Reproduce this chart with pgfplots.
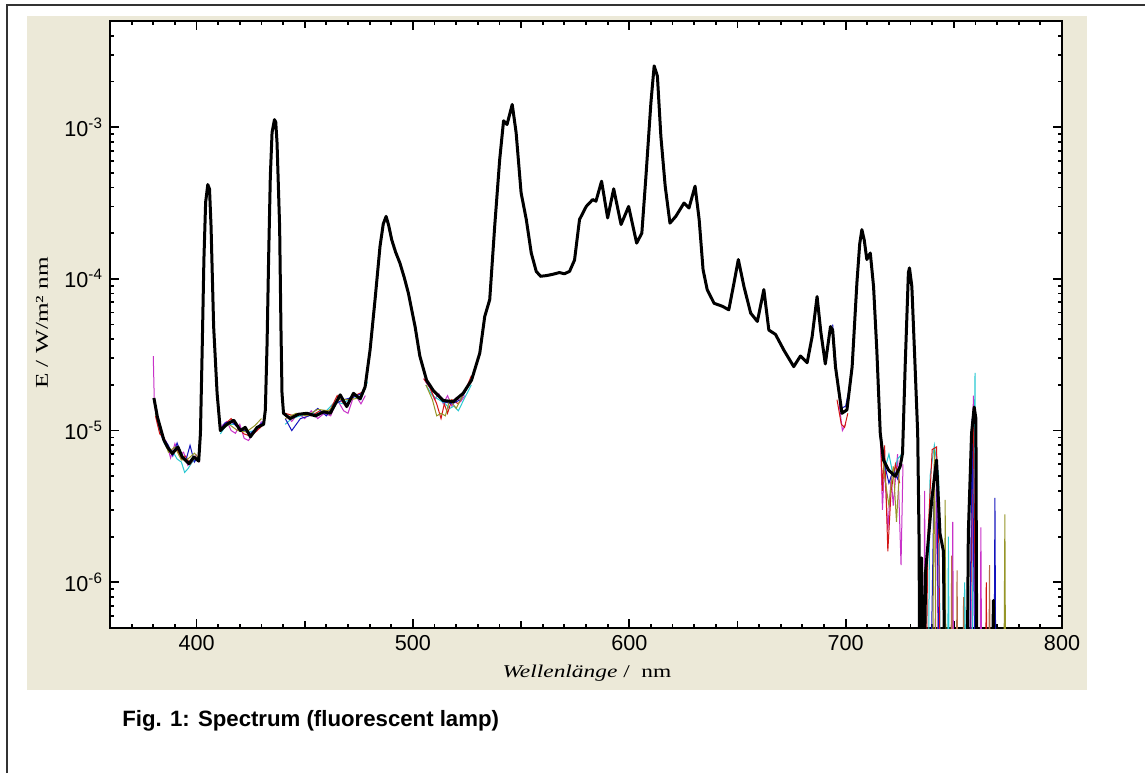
\documentclass[border=0pt]{standalone}
\usepackage{fontspec}
\setmainfont{Liberation Sans}
\newfontfamily\tnr{Liberation Serif}
\usepackage{graphicx}
\usepackage{pgfplots}
\pgfplotsset{compat=1.18}

\definecolor{panel}{RGB}{236,233,216}
\definecolor{cred}{RGB}{210,20,20}
\definecolor{cmag}{RGB}{200,50,200}
\definecolor{ccyan}{RGB}{40,200,210}
\definecolor{cblue}{RGB}{20,20,190}
\definecolor{colive}{RGB}{150,150,40}
\definecolor{cbrown}{RGB}{180,110,70}

\begin{document}
\begin{tikzpicture}
\useasboundingbox (0,0) rectangle (572.5pt,386.5pt);
% beige panel and outer frame
\fill[panel] (13.5pt,41.5pt) rectangle (543.5pt,378.5pt);
\draw[line width=0.8pt, black!80] (3.5pt,0) -- (3.5pt,384pt) -- (572.5pt,384pt);

\begin{axis}[
  at={(55pt,72.5pt)}, anchor=south west,
  width=476pt, height=303.5pt, scale only axis,
  axis background/.style={fill=white},
  xmin=360, xmax=800,
  ymode=log, ymin=5e-7, ymax=5e-3,
  axis line style={line width=1pt},
  every tick/.style={line width=0.9pt, black},
  tick align=inside,
  major tick length=4.5pt, minor tick length=2pt,
  xtick={400,500,600,700,800},
  xticklabels={400,500,600,700,800},
  minor xtick={370,380,390,410,420,430,440,460,470,480,490,510,520,530,540,560,570,580,590,610,620,630,640,660,670,680,690,710,720,730,740,760,770,780,790},
  extra x ticks={450,550,650,750},
  extra x tick labels={},
  extra x tick style={major tick length=3.5pt},
  ytick={1e-6,1e-5,1e-4,1e-3},
  yticklabels={10\textsuperscript{-6},10\textsuperscript{-5},10\textsuperscript{-4},10\textsuperscript{-3}},
  minor ytick={6e-7,7e-7,8e-7,9e-7,2e-6,3e-6,4e-6,5e-6,6e-6,7e-6,8e-6,9e-6,2e-5,3e-5,4e-5,5e-5,6e-5,7e-5,8e-5,9e-5,2e-4,3e-4,4e-4,5e-4,6e-4,7e-4,8e-4,9e-4,2e-3,3e-3,4e-3},
  ticklabel style={font=\fontsize{10.8}{12}\selectfont},
  unbounded coords=jump,
]
% thin coloured repeat measurements (visible only where noisy)
\addplot[cmag, line width=0.5pt] coordinates {
 (380,3.1e-5)(380.5,1.5e-5)(382,1.1e-5)(384,9e-6)(386,8.5e-6)(388,6.6e-6)(390,8.2e-6)(392,6.9e-6)(394,7.2e-6)(396,5.9e-6)(398,6.4e-6)(400,6.9e-6)(401.5,6.2e-6)(402,nan)
 (411,1.05e-5)(414,1.15e-5)(416,1.0e-5)(418,9.6e-6)(420,1.1e-5)(422,8.9e-6)(424,8.6e-6)(426,9.5e-6)(428,1.0e-5)(430,1.15e-5)(431,nan)
 (441,1.25e-5)(444,1.15e-5)(447,1.3e-5)(450,1.2e-5)(453,1.35e-5)(456,1.2e-5)(459,1.3e-5)(462,1.25e-5)(465,1.6e-5)(468,1.35e-5)(470,1.3e-5)(473,1.75e-5)(476,1.5e-5)(478,1.7e-5)(479,nan)
 (505,2.2e-5)(508,1.9e-5)(510,1.6e-5)(512,1.75e-5)(514,1.5e-5)(516,1.7e-5)(518,1.45e-5)(520,1.65e-5)(522,1.55e-5)(524,1.7e-5)(525,nan)
 (697,1.5e-5)(698.5,1.0e-5)(700,1.1e-5)(701,nan)
 (716,1.0e-5)(717,3e-6)(718,6e-6)(719.5,2.2e-6)(721,5e-6)(722,3.2e-6)(724,7e-6)(725.6,1.3e-6)(726.5,6e-6)(727,nan)
 (736,1e-7)(736.5,4e-6)(737,1e-7)(741,1e-7)(742,7e-6)(743,1e-7)(749,1e-7)(749.5,2.5e-6)(750,1e-7)(758,1e-7)(759,1.7e-5)(760,1e-7)(762,1e-7)(762.5,2.3e-6)(763,1e-7)
};
\addplot[ccyan, line width=0.5pt] coordinates {
 (381,1.3e-5)(383,1.0e-5)(385,8.3e-6)(387,7.5e-6)(389,7.3e-6)(391,6.5e-6)(393,6.2e-6)(394.5,5.3e-6)(396,5.6e-6)(398,6.2e-6)(400,6.5e-6)(401,nan)
 (411,9.5e-6)(413,1.05e-5)(415,1.1e-5)(418,1.1e-5)(421,1.0e-5)(424,9.8e-6)(427,1.0e-5)(430,1.1e-5)(431,nan)
 (441,1.1e-5)(444,1.2e-5)(448,1.25e-5)(452,1.3e-5)(456,1.3e-5)(460,1.35e-5)(464,1.55e-5)(468,1.5e-5)(472,1.7e-5)(476,1.6e-5)(479,2.1e-5)(480,nan)
 (506,2.0e-5)(509,1.7e-5)(512,1.6e-5)(515,1.5e-5)(517,1.4e-5)(519,1.45e-5)(521,1.35e-5)(524,1.65e-5)(527,2.0e-5)(528,nan)
 (716,9e-6)(718,5.5e-6)(720,7e-6)(722,5e-6)(724,6.5e-6)(726,7e-6)(727,nan)
 (733.5,1e-7)(734,3e-6)(735,1e-7)(738,1e-7)(739,5e-6)(741,8e-6)(743,5e-6)(744,1e-7)(747,1e-7)(747.5,2e-6)(748,1e-7)(754,1e-7)(755,1e-6)(756,1e-7)(758,1e-7)(759.8,2.4e-5)(760.5,1e-7)
};
\addplot[cred, line width=0.5pt] coordinates {
 (381,1.25e-5)(383,9.5e-6)(385,9e-6)(387,7.4e-6)(389,7.0e-6)(391,7.5e-6)(393,6.5e-6)(395,6.8e-6)(397,6.0e-6)(399,6.6e-6)(401,6.2e-6)(402,nan)
 (411,1.0e-5)(413,1.1e-5)(416,1.2e-5)(419,1.05e-5)(422,9.5e-6)(425,9.2e-6)(428,1.0e-5)(431,1.1e-5)(432,nan)
 (441,1.3e-5)(445,1.25e-5)(449,1.3e-5)(453,1.25e-5)(457,1.35e-5)(461,1.3e-5)(465,1.7e-5)(469,1.45e-5)(473,1.7e-5)(477,1.8e-5)(478,nan)
 (505,2.2e-5)(508,1.9e-5)(511,1.5e-5)(513,1.2e-5)(514.5,1.5e-5)(516,1.3e-5)(518,1.6e-5)(521,1.5e-5)(524,1.8e-5)(527,2.3e-5)(528,nan)
 (696,1.6e-5)(698,1.1e-5)(699.5,1.05e-5)(701,1.3e-5)(702,nan)
 (716,1.1e-5)(717,4e-6)(718,8e-6)(719.5,1.6e-6)(721,4e-6)(723,6e-6)(725,4.5e-6)(726,nan)
 (737,1e-7)(738,2e-6)(740,7.5e-6)(742,7.8e-6)(743,2e-6)(744,1e-7)(757,1e-7)(759,1.4e-5)(760.5,1e-7)(764.5,1e-7)(765,1.0e-6)(765.5,1e-7)
};
\addplot[cblue, line width=0.5pt] coordinates {
 (381,1.35e-5)(383,1.05e-5)(385,8.8e-6)(387,8.0e-6)(389,6.8e-6)(391,8.3e-6)(393,6.9e-6)(395,6.3e-6)(397,8.0e-6)(399,6.2e-6)(401,6.8e-6)(402,nan)
 (411,1.0e-5)(413,1.12e-5)(416,1.15e-5)(419,1.05e-5)(422,1.0e-5)(425,9.6e-6)(428,1.05e-5)(431,1.15e-5)(432,nan)
 (441,1.2e-5)(444,1.0e-5)(448,1.2e-5)(452,1.25e-5)(456,1.4e-5)(460,1.25e-5)(464,1.5e-5)(468,1.6e-5)(472,1.65e-5)(476,1.75e-5)(477,nan)
 (506,2.1e-5)(510,1.8e-5)(514,1.55e-5)(518,1.5e-5)(522,1.6e-5)(526,2.0e-5)(527,nan)
 (694,5e-5)(696,2.3e-5)(698,1.4e-5)(700,1.45e-5)(702,2e-5)(703,nan)
 (716,1e-5)(718,6e-6)(720,4.5e-6)(722,5.5e-6)(724,4.8e-6)(726,6.5e-6)(727,nan)
 (733.5,1e-7)(734,1.8e-6)(735,1e-7)(739,1e-7)(741,6e-6)(742,6.2e-6)(743.5,1e-7)(757,1e-7)(758.5,1.2e-5)(760,1e-7)(768.5,1e-7)(769,3.6e-6)(769.5,1e-7)
};
\addplot[colive, line width=0.5pt] coordinates {
 (381,1.3e-5)(384,9.6e-6)(387,7.2e-6)(390,7.8e-6)(393,6.4e-6)(396,6.5e-6)(399,7.1e-6)(401,6.6e-6)(402,nan)
 (411,1.0e-5)(415,1.1e-5)(419,1.0e-5)(423,9.8e-6)(427,1.08e-5)(430,1.2e-5)(431,nan)
 (441,1.2e-5)(446,1.3e-5)(451,1.25e-5)(456,1.38e-5)(461,1.35e-5)(466,1.6e-5)(471,1.6e-5)(476,1.65e-5)(477,nan)
 (506,2.0e-5)(509,1.6e-5)(511,1.25e-5)(513,1.3e-5)(515,1.25e-5)(517,1.6e-5)(520,1.4e-5)(523,1.7e-5)(524,nan)
 (716,1.0e-5)(718,5e-6)(720,3.2e-6)(722,5.8e-6)(723.5,2.5e-6)(725,6e-6)(726,nan)
 (740,1e-7)(741,7.5e-6)(742,1e-7)(745.5,1e-7)(746,3.5e-6)(746.5,1e-7)(773,1e-7)(773.6,2.8e-6)(774,1e-7)
};
\addplot[cbrown, line width=0.5pt] coordinates {
 (748.5,1e-7)(749,1.5e-6)(749.5,1e-7)(751,1e-7)(751.5,1.2e-6)(752,1e-7)(754,1e-7)(754.5,8e-7)(755,1e-7)(766,1e-7)(766.5,1.3e-6)(767,1e-7)
};
% mean spectrum
\addplot[black, line width=1.5pt, line join=round] coordinates {
 (380.3,1.64e-5)(381.9,1.23e-5)(384.9,8.65e-6)(386.5,7.8e-6)(388.8,7.06e-6)(391.4,7.8e-6)(393.4,6.7e-6)(396.5,6.06e-6)(398.8,6.7e-6)(401.0,6.3e-6)
 (401.8,9.6e-6)(402.6,3.4e-5)(403.4,1.34e-4)(404.2,3.2e-4)(405.2,4.18e-4)(406.0,3.9e-4)(406.7,2.22e-4)(407.9,4.85e-5)(409.5,1.76e-5)
 (411.0,1.0e-5)(414.0,1.1e-5)(417.2,1.17e-5)(420.3,1.0e-5)(422.5,1.05e-5)(424.9,9.1e-6)(428.0,1.05e-5)(431.0,1.1e-5)(431.8,1.37e-5)
 (432.6,3.77e-5)(433.3,1.34e-4)(434.1,4.74e-4)(434.9,9.2e-4)(436.0,1.12e-3)(436.6,1.08e-3)(437.2,7.9e-4)(438.4,2.2e-4)(439.0,4.85e-5)(439.5,1.76e-5)
 (440.2,1.3e-5)(443.3,1.2e-5)(447.0,1.28e-5)(451.0,1.3e-5)(455.0,1.25e-5)(458.7,1.33e-5)(461.8,1.3e-5)(466.4,1.72e-5)(469.4,1.44e-5)(472.5,1.76e-5)(475.6,1.62e-5)(477.9,1.94e-5)
 (480.2,3.4e-5)(482.5,7.3e-5)(484.8,1.64e-4)(486.3,2.3e-4)(487.6,2.58e-4)(488.8,2.25e-4)(490.2,1.81e-4)(492.0,1.5e-4)(494.0,1.27e-4)(496.0,1.02e-4)(497.9,8.05e-5)(499.5,6.2e-5)(501.0,4.85e-5)(503.2,3.1e-5)(506.3,2.15e-5)(509.4,1.84e-5)
 (514.0,1.58e-5)(518.6,1.55e-5)(523.2,1.76e-5)(527.1,2.15e-5)(530.9,3.24e-5)(533.2,5.65e-5)(535.5,7.3e-5)(537.8,2.22e-4)(540.1,6.1e-4)(541.9,1.1e-3)(543.5,1.04e-3)
 (545.9,1.41e-3)(547.7,9.2e-4)(550.0,3.69e-4)(552.4,2.46e-4)(554.7,1.48e-4)(557.0,1.12e-4)(559.0,1.04e-4)(561.6,1.05e-4)(564.5,1.07e-4)(567.7,1.1e-4)(570.0,1.08e-4)(572.4,1.12e-4)(574.7,1.33e-4)
 (577.0,2.46e-4)(580.1,3.0e-4)(583.1,3.33e-4)(584.6,3.25e-4)(587.2,4.4e-4)(590.0,2.52e-4)(592.8,3.92e-4)(596.2,2.28e-4)(599.7,3.0e-4)(603.4,1.72e-4)(605.8,2.0e-4)
 (607.7,4.74e-4)(610.0,1.45e-3)(611.5,2.53e-3)(613.0,2.17e-3)(614.6,8.7e-4)(616.6,4.08e-4)(618.8,2.33e-4)(621.5,2.58e-4)(625.3,3.16e-4)(627.6,2.93e-4)(630.4,4.08e-4)
 (632.3,2.46e-4)(634.1,1.15e-4)(636.0,8.5e-5)(639.2,6.9e-5)(643.0,6.6e-5)(646.0,6.25e-5)(648.4,9.4e-5)(650.4,1.34e-4)(653.0,8.9e-5)(656.1,5.95e-5)(659.2,5.24e-5)
 (662.2,8.5e-5)(664.5,4.6e-5)(667.6,4.3e-5)(671.4,3.4e-5)(676.0,2.64e-5)(679.1,3.1e-5)(682.2,2.8e-5)(684.5,4.15e-5)(686.8,7.65e-5)(688.5,4.5e-5)(690.6,2.75e-5)
 (693.0,4.85e-5)(694.0,4.6e-5)(695.3,2.63e-5)(698.3,1.3e-5)(700.6,1.37e-5)(703.0,2.63e-5)(705.2,9.4e-5)(706.5,1.7e-4)(707.5,2.11e-4)(708.6,1.8e-4)(709.8,1.34e-4)(711.4,1.48e-4)(712.9,8.9e-5)
 (714.4,3.4e-5)(716.0,9.6e-6)(717.5,6.4e-6)(719.8,5.5e-6)(722.9,5.0e-6)(725.2,5.8e-6)(726.3,7.1e-6)(727.5,2.63e-5)(729.0,1.1e-4)(729.5,1.18e-4)(730.6,8.9e-5)
 (732.1,2.63e-5)(733.3,9.6e-6)(733.9,2.1e-6)(734.4,1e-7)(735.1,1.45e-6)(736.0,1e-7)(737.0,1.2e-6)(739.8,3.5e-6)(742.0,6.4e-6)(743.6,2.1e-6)(745.2,1.6e-6)(746.0,1e-7)
 (756.0,1e-7)(756.7,2.1e-6)(758.2,9.6e-6)(759.4,1.43e-5)(760.2,1.2e-5)(760.7,1e-7)(767.5,1e-7)(768.3,7.6e-7)(769.0,1e-7)
};
\end{axis}

% axis titles (stretched serif, as in the original)
\node[anchor=base, inner sep=0] at (293.5pt,48pt)
  {\tnr\fontsize{9}{10}\selectfont\scalebox{1.3}[1]{\textit{Wellenlänge} /\ \ nm}};
\node[rotate=90, inner sep=0] at (21pt,225pt)
  {\tnr\fontsize{9}{10}\selectfont\scalebox{1.4}[1]{E /\ W/m² nm}};

% caption
\node[anchor=base west, inner sep=0] at (61pt,23.5pt)
  {\fontsize{11.1}{13}\selectfont\bfseries Fig. 1: Spectrum (fluorescent lamp)};
\end{tikzpicture}
\end{document}
